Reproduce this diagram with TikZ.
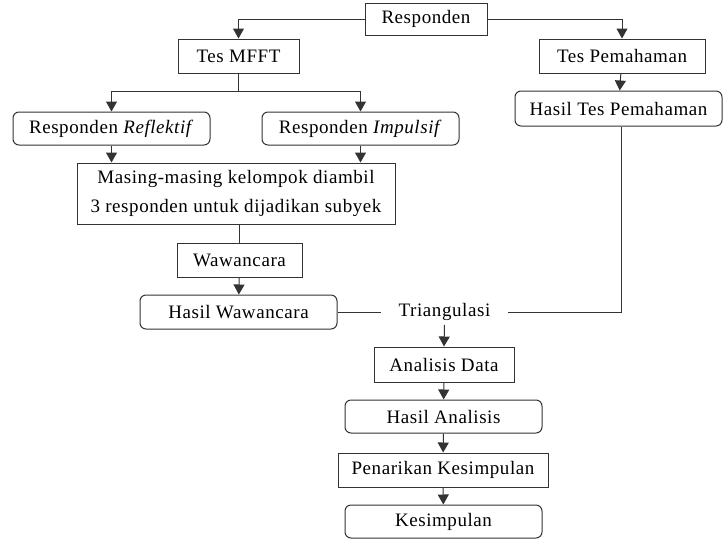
\documentclass[tikz,border=0pt]{standalone}
\usepackage{fontspec}
\setmainfont{Liberation Serif}[LetterSpace=3]
\usepackage{tikz}
\usetikzlibrary{arrows.meta,positioning}

\begin{document}
\begin{tikzpicture}[
    x=1pt, y=-1pt,
    every node/.style={font=\fontsize{19}{29}\selectfont, text=black},
    box/.style={rectangle, draw=black!80, line width=1pt, inner sep=0pt, align=center},
    result/.style={box, rounded corners=6pt},
    arrow/.style={-{Triangle[width=11pt,length=10pt]}, line width=1pt, draw=black!80},
    link/.style={line width=1pt, draw=black!80}
]
\useasboundingbox (0,0) rectangle (723,539);

% Top
\node[box, minimum width=122, minimum height=32] (resp) at (426,19) {Responden};
\node[box, minimum width=121, minimum height=34] (mfft) at (238.5,56) {Tes MFFT};
\node[box, minimum width=166, minimum height=34] (pem) at (622,56) {Tes Pemahaman};
\node[result, minimum width=207, minimum height=35] (hpem) at (618.5,108.5) {Hasil Tes Pemahaman};

% Groups
\node[result, minimum width=197, minimum height=33] (refl) at (111.5,128.5) {Responden \textit{Reflektif}};
\node[result, minimum width=197, minimum height=33] (imp) at (360.5,128.5) {Responden \textit{Impulsif}};
\node[box, minimum width=318, minimum height=61] (masing) at (236,193.5) {Masing-masing kelompok diambil\\3 responden untuk dijadikan subyek};

% Interview
\node[box, minimum width=125, minimum height=34] (waw) at (239.5,260) {Wawancara};
\node[result, minimum width=197, minimum height=34] (hwaw) at (238.5,312) {Hasil Wawancara};
\node[minimum width=127, inner sep=0pt] (tri) at (444.5,312) {Triangulasi};

% Analysis
\node[box, minimum width=140, minimum height=35] (anal) at (444,364.5) {Analisis Data};
\node[result, minimum width=197, minimum height=33] (hanal) at (443.5,416.5) {Hasil Analisis};
\node[box, minimum width=210, minimum height=34] (tarik) at (443,470) {Penarikan Kesimpulan};
\node[result, minimum width=197, minimum height=33] (kes) at (443.5,521.5) {Kesimpulan};

% Arrows
\draw[arrow] (resp.west) -| (mfft.north);
\draw[arrow] (resp.east) -| (pem.north);
\draw[arrow] (pem) -- (hpem);
\draw[link] (mfft.south) -- ++(0,18) coordinate (split);
\draw[arrow] (split) -| (refl.north);
\draw[arrow] (split) -| (imp.north);
\draw[arrow] (refl.south) -- (refl.south |- masing.north);
\draw[arrow] (imp.south) -- (imp.south |- masing.north);
\draw[link] (masing.south -| waw.north) -- (waw.north);
\draw[arrow] (waw) -- (hwaw);
\draw[link] (hwaw.east) -- (tri.west);
\draw[link] (tri.east) -| ([xshift=2.5pt]hpem.south);
\draw[arrow] (tri.south) ++(0,4) -- (anal.north);
\draw[arrow] (anal) -- (hanal);
\draw[arrow] (hanal) -- (tarik);
\draw[arrow] (tarik) -- (kes);

\end{tikzpicture}
\end{document}
